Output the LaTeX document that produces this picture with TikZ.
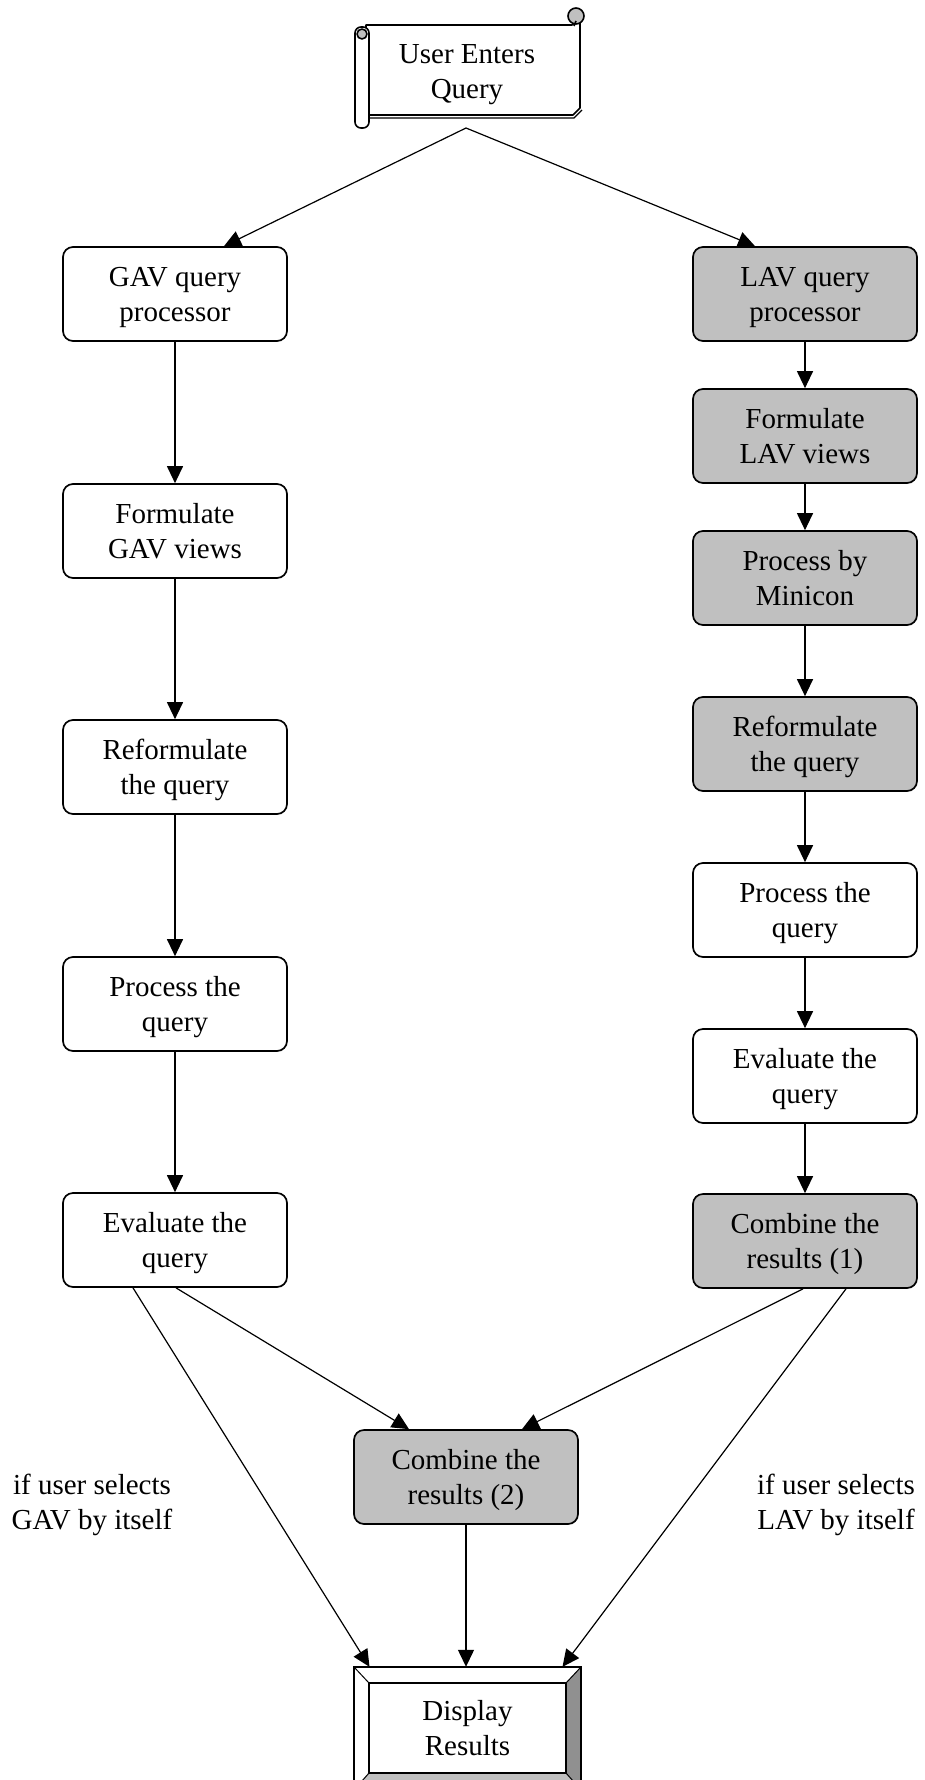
\documentclass[tikz,border=0pt]{standalone}
\usepackage{fontspec}
\setmainfont{Liberation Serif}
\usetikzlibrary{arrows.meta}
\definecolor{boxgray}{HTML}{C0C0C0}
\definecolor{darkbev}{HTML}{909090}
\begin{document}
\begin{tikzpicture}[x=1pt,y=-1pt,
  every node/.style={font=\fontsize{29}{35}\selectfont, align=center},
  pbox/.style={draw, line width=1.7pt, rounded corners=10pt, minimum width=224pt, minimum height=94pt, inner sep=0pt, fill=white, text depth=0pt},
  gbox/.style={pbox, fill=boxgray},
  arr/.style={line width=1.2pt, -{Triangle[length=17pt,width=16pt]}},
  ln/.style={line width=1.2pt},
  sc/.style={line width=1.6pt, line join=round}]
\useasboundingbox (0,0) rectangle (924,1780);
\fill[white] (0,0) rectangle (924,1780);

% scroll
\draw[sc,fill=white] (366,25) -- (572,25) -- (580,19) -- (580,108) -- (573,115) -- (366,115) -- cycle;
\draw[line width=1.2pt] (368,118) -- (574,118) -- (582,110);
\draw[sc,fill=boxgray] (576,16) circle (8);
\draw[sc] (576,21) -- (574,26);
\draw[sc,fill=white,rounded corners=6pt] (355,27) rectangle (369,128);
\draw[sc,fill=boxgray] (362,34) circle (5);
\node[text depth=0pt] (q) at (467,72) {User Enters\\Query};
\coordinate (qs) at (466,128);

% left column
\node[pbox] (gq) at (175,294) {GAV query\\processor};
\node[pbox] (gf) at (175,531) {Formulate\\GAV views};
\node[pbox] (gr) at (175,767) {Reformulate\\the query};
\node[pbox] (gp) at (175,1004) {Process the\\query};
\node[pbox] (ge) at (175,1240) {Evaluate the\\query};

% right column
\node[gbox] (lq) at (805,294) {LAV query\\processor};
\node[gbox] (lf) at (805,436) {Formulate\\LAV views};
\node[gbox] (lm) at (805,578) {Process by\\Minicon};
\node[gbox] (lr) at (805,744) {Reformulate\\the query};
\node[pbox] (lp) at (805,910) {Process the\\query};
\node[pbox] (le) at (805,1076) {Evaluate the\\query};
\node[gbox] (c1) at (805,1241) {Combine the\\results (1)};

% combine 2
\node[gbox] (c2) at (466,1477) {Combine the\\results (2)};

% display results (bevel)
\fill[white] (354,1667) -- (581,1667) -- (566,1683) -- (369,1683) -- cycle;
\fill[white] (354,1667) -- (369,1683) -- (369,1773) -- (354,1790) -- cycle;
\fill[darkbev] (581,1667) -- (581,1790) -- (566,1773) -- (566,1683) -- cycle;
\fill[boxgray] (354,1790) -- (581,1790) -- (566,1773) -- (369,1773) -- cycle;
\draw[line width=1.7pt] (354,1667) rectangle (581,1790);
\draw[line width=1.7pt] (369,1683) rectangle (566,1773);
\draw[line width=1pt] (354,1667) -- (369,1683) (581,1667) -- (566,1683) (354,1790) -- (369,1773) (581,1790) -- (566,1773);
\node[minimum width=227pt, minimum height=123pt, inner sep=0pt] (dr) at (467.5,1728.5) {Display\\Results};

% labels
\node (gl) at (92,1505) {if user selects\\GAV by itself};
\node (ll) at (836,1505) {if user selects\\LAV by itself};

% connectors
\draw[arr] (qs) -- ([xshift=49pt]gq.north);
\draw[arr] (qs) -- ([xshift=-50pt]lq.north);
\draw[arr] (gq) -- (gf);
\draw[arr] (gf) -- (gr);
\draw[arr] (gr) -- (gp);
\draw[arr] (gp) -- (ge);
\draw[arr] (lq) -- (lf);
\draw[arr] (lf) -- (lm);
\draw[arr] (lm) -- (lr);
\draw[arr] (lr) -- (lp);
\draw[arr] (lp) -- (le);
\draw[arr] (le) -- (c1);
\draw[arr] ([xshift=-42pt]ge.south) -- ([xshift=-98pt]dr.north);
\draw[arr] ([xshift=1pt]ge.south) -- ([xshift=-57pt]c2.north);
\draw[arr] ([xshift=41pt]c1.south) -- ([xshift=95pt]dr.north);
\draw[arr] ([xshift=-2pt]c1.south) -- ([xshift=56pt]c2.north);
\draw[arr] (c2.south) -- (c2.south |- dr.north);
\end{tikzpicture}
\end{document}
